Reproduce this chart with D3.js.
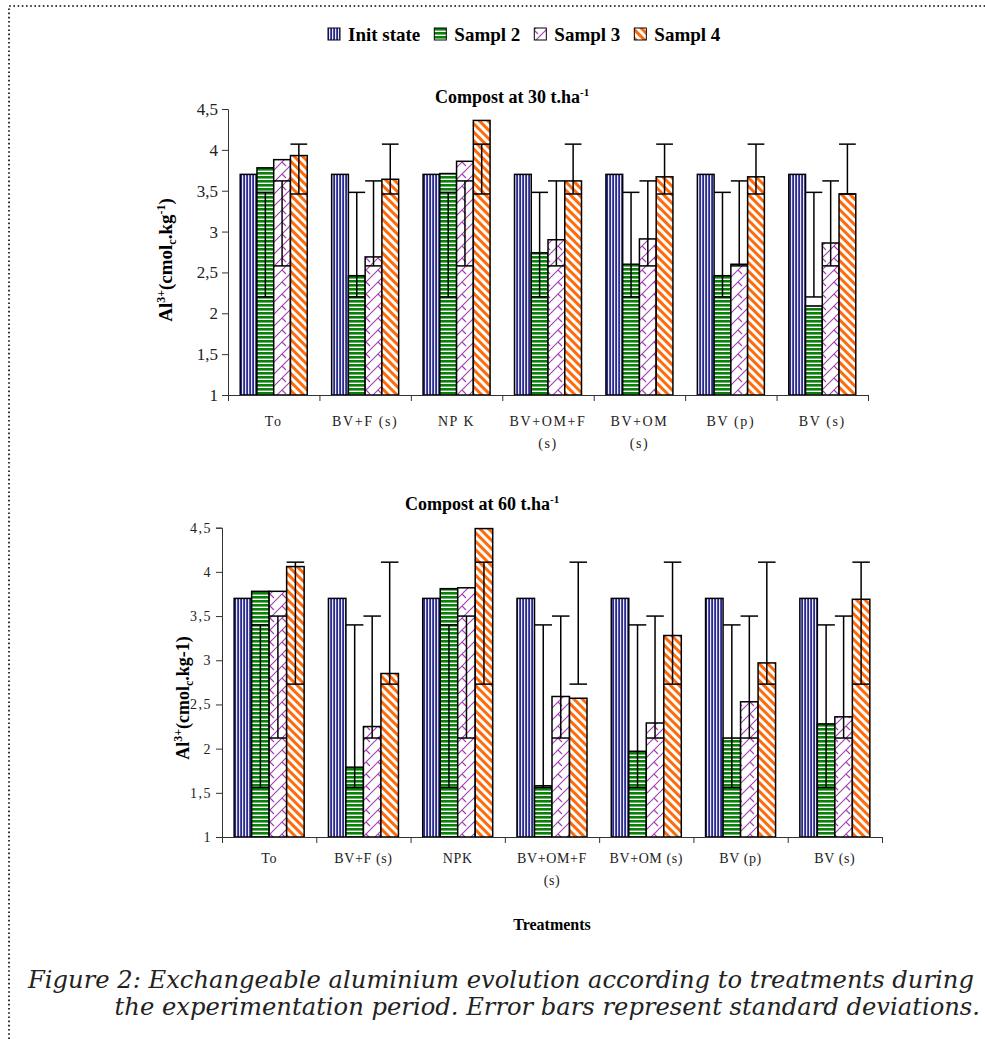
<!DOCTYPE html>
<html>
<head>
<meta charset="utf-8">
<script src="https://cdn.jsdelivr.net/npm/d3@7/dist/d3.min.js"></script>
<style>
body { margin: 0; background: #fff; }
svg { display: block; }
</style>
</head>
<body>
<script>
// categories
var treatments_30 = ["To", "BV+F (s)", "NP K", "BV+OM+F|(s)", "BV+OM|(s)", "BV (p)", "BV (s)"];
var treatments_60 = ["To", "BV+F (s)", "NPK", "BV+OM+F|(s)", "BV+OM (s)", "BV (p)", "BV (s)"];
var series = ["Init state", "Sampl 2", "Sampl 3", "Sampl 4"];
var y_ticks = [1, 1.5, 2, 2.5, 3, 3.5, 4, 4.5];

// compost at 30 t/ha
var init_30 = [3.7, 3.7, 3.7, 3.7, 3.7, 3.7, 3.7];
var sampl2_30 = [3.78, 2.46, 3.71, 2.74, 2.60, 2.46, 2.09];
var sampl3_30 = [3.88, 2.69, 3.86, 2.90, 2.91, 2.60, 2.86];
var sampl4_30 = [3.93, 3.64, 4.36, 3.62, 3.67, 3.67, 3.46];
// error bar ends per series (Init state has none)
var err_low_30 = [null, 2.20, 2.58, 3.46];
var err_high_30 = [null, 3.48, 3.62, 4.07];

// compost at 60 t/ha
var init_60 = [3.7, 3.7, 3.7, 3.7, 3.7, 3.7, 3.7];
var sampl2_60 = [3.78, 1.79, 3.81, 1.58, 1.97, 2.12, 2.28];
var sampl3_60 = [3.78, 2.25, 3.82, 2.59, 2.29, 2.53, 2.36];
var sampl4_60 = [4.06, 2.85, 4.49, 2.57, 3.28, 2.97, 3.69];
var err_low_60 = [null, 1.56, 2.12, 2.73];
var err_high_60 = [null, 3.40, 3.50, 4.11];

//Width and height
var w = 985;
var h = 1039;

var svg = d3.select("body")
            .append("svg")
            .attr("width", w)
            .attr("height", h);

var defs = svg.append('defs');

// fill patterns, one per series
var pat_blue = defs.append('pattern').attr('id', 'p0')
    .attr('patternUnits', 'userSpaceOnUse').attr('width', 3).attr('height', 10);
pat_blue.append('rect').attr('width', 3).attr('height', 10).attr('fill', '#e8e8f8');
pat_blue.append('rect').attr('x', 0.3).attr('width', 1.6).attr('height', 10).attr('fill', '#141482');

var pat_green = defs.append('pattern').attr('id', 'p1')
    .attr('patternUnits', 'userSpaceOnUse').attr('width', 10).attr('height', 4);
pat_green.append('rect').attr('width', 10).attr('height', 4).attr('fill', '#fff');
pat_green.append('rect').attr('y', 0).attr('width', 10).attr('height', 2.6).attr('fill', '#0a800a');

var pat_purple = defs.append('pattern').attr('id', 'p2')
    .attr('patternUnits', 'userSpaceOnUse').attr('width', 12).attr('height', 12);
pat_purple.append('rect').attr('width', 12).attr('height', 12).attr('fill', '#fff');
pat_purple.append('path')
    .attr('d', 'M0,12 L12,0 M6,6 L10,10 M-1,1 L1,-1 M11,13 L13,11')
    .attr('stroke', '#a040b0').attr('stroke-width', 1.1).attr('fill', 'none');

var pat_orange = defs.append('pattern').attr('id', 'p3')
    .attr('patternUnits', 'userSpaceOnUse').attr('width', 6).attr('height', 10)
    .attr('patternTransform', 'rotate(-45)');
pat_orange.append('rect').attr('width', 6).attr('height', 10).attr('fill', '#fff');
pat_orange.append('rect').attr('width', 3).attr('height', 10).attr('fill', '#ff6a0a');

// dotted frame
svg.append('path')
    .attr('d', `M9,${h} L9,6 L${w},6`)
    .attr('fill', 'none')
    .attr('stroke', '#000')
    .attr('stroke-width', 1.6)
    .attr('stroke-dasharray', '1.6,2.6');

// legend
var legend_g = svg.append('g').attr('class', 'legend');
var lx = 328;
series.forEach((s, i) => {
    legend_g.append('rect')
        .attr('x', lx).attr('y', 28).attr('width', 12).attr('height', 12)
        .attr('fill', `url(#p${i})`).attr('stroke', '#000').attr('stroke-width', 1);
    var t = legend_g.append('text')
        .attr('x', lx + 20).attr('y', 41)
        .style('font-family', 'Liberation Serif').style('font-weight', 'bold').style('font-size', '19px')
        .text(s);
    lx += 20 + t.node().getComputedTextLength() + 14;
});

function draw_chart(opt) {
    var g = svg.append('g').attr('class', opt.name);

    var x = d3.scaleBand().domain(d3.range(opt.cats.length)).range([opt.x0, opt.x1]);
    var edge = d3.scaleLinear().domain([0, opt.cats.length]).range([opt.x0, opt.x1]);
    var y = d3.scaleLinear().domain([1, 4.5]).range([opt.ybase, opt.ytop]);
    var inner = d3.scaleBand().domain(series)
        .range([(x.bandwidth() - opt.group) / 2, (x.bandwidth() + opt.group) / 2]);

    var rows = [];
    opt.values.forEach((vals, si) => {
        vals.forEach((v, ci) => rows.push({cat: ci, s: series[si], si: si, v: v}));
    });

    g.selectAll('.bar')
        .data(rows)
        .enter()
        .append('rect')
        .attr('class', 'bar')
        .attr('x', d => x(d.cat) + inner(d.s))
        .attr('width', inner.bandwidth())
        .attr('y', d => y(d.v))
        .attr('height', d => y(1) - y(d.v))
        .attr('fill', d => `url(#p${d.si})`)
        .attr('stroke', '#000')
        .attr('stroke-width', 1.5);

    // error bars
    var errs = rows.filter(d => opt.low[d.si] !== null);
    var eg = g.selectAll('.err')
        .data(errs)
        .enter()
        .append('g')
        .attr('class', 'err')
        .attr('stroke', '#000')
        .attr('stroke-width', 1.5);
    eg.append('line')
        .attr('x1', d => x(d.cat) + inner(d.s) + inner.bandwidth() / 2)
        .attr('x2', d => x(d.cat) + inner(d.s) + inner.bandwidth() / 2)
        .attr('y1', d => y(opt.low[d.si]))
        .attr('y2', d => y(opt.high[d.si]));
    [opt.low, opt.high].forEach(arr => {
        eg.append('line')
            .attr('x1', d => x(d.cat) + inner(d.s))
            .attr('x2', d => x(d.cat) + inner(d.s) + inner.bandwidth())
            .attr('y1', d => y(arr[d.si]))
            .attr('y2', d => y(arr[d.si]));
    });

    // y axis
    var yaxis = g.append('g')
        .attr('transform', `translate(${opt.x0},0)`)
        .call(d3.axisLeft(y).tickValues(y_ticks).tickSize(6).tickPadding(4)
              .tickFormat(d => String(d).replace('.', ',')));
    yaxis.selectAll('text')
        .style('font-family', 'Liberation Serif')
        .style('font-size', opt.tickSize)
        .style('letter-spacing', opt.tickSpacing)
        .attr('fill', '#222');

    // x axis: ticks on category edges
    var xaxis = g.append('g')
        .attr('transform', `translate(0,${opt.ybase})`)
        .call(d3.axisBottom(edge).tickValues(d3.range(opt.cats.length + 1))
              .tickSize(6).tickSizeOuter(0).tickFormat(''));
    g.selectAll('.domain, .tick line').attr('stroke', '#333');

    var labels = g.selectAll('.xlabel')
        .data(opt.cats)
        .enter()
        .append('text')
        .attr('class', 'xlabel')
        .attr('text-anchor', 'middle')
        .style('font-family', 'Liberation Serif')
        .style('font-size', opt.labelSize)
        .style('letter-spacing', opt.labelSpacing)
        .attr('fill', '#222');
    labels.each(function(c, i) {
        var parts = c.split('|');
        var sel = d3.select(this);
        parts.forEach((p, k) => {
            sel.append('tspan')
                .attr('x', x(i) + x.bandwidth() / 2)
                .attr('y', opt.labelY + k * 22)
                .text(p);
        });
    });

    // title
    var title = g.append('text')
        .attr('x', opt.titleX).attr('y', opt.titleY)
        .style('font-family', 'Liberation Serif').style('font-weight', 'bold').style('font-size', '18px')
        .text(opt.title);
    title.append('tspan').attr('dy', -7).style('font-size', '11px').text('-1');

    // y label
    var ylab = g.append('text')
        .attr('transform', `translate(${opt.ylabX},${opt.ylabY}) rotate(-90)`)
        .attr('text-anchor', 'middle')
        .style('font-family', 'Liberation Serif').style('font-weight', 'bold').style('font-size', opt.ylabSize);
    ylab.append('tspan').text('Al');
    ylab.append('tspan').attr('dy', -7).style('font-size', '12px').text('3+');
    ylab.append('tspan').attr('dy', 7).text('(cmol');
    ylab.append('tspan').attr('dy', 4).style('font-size', '12px').text('c');
    if (opt.supUnit) {
        ylab.append('tspan').attr('dy', -4).text('.kg');
        ylab.append('tspan').attr('dy', -7).style('font-size', '12px').text('-1');
        ylab.append('tspan').attr('dy', 7).text(')');
    } else {
        ylab.append('tspan').attr('dy', -4).text('.kg-1)');
    }
}

draw_chart({
    name: 'c30', cats: treatments_30,
    values: [init_30, sampl2_30, sampl3_30, sampl4_30],
    low: err_low_30, high: err_high_30,
    x0: 228, x1: 868, ybase: 395, ytop: 109, group: 67,
    tickSize: '17px', tickSpacing: '0px',
    labelSize: '14px', labelSpacing: '1.6px', labelY: 426,
    title: 'Compost at 30 t.ha', titleX: 435, titleY: 103,
    ylabX: 172, ylabY: 260, ylabSize: '19px', supUnit: true
});

draw_chart({
    name: 'c60', cats: treatments_60,
    values: [init_60, sampl2_60, sampl3_60, sampl4_60],
    low: err_low_60, high: err_high_60,
    x0: 222, x1: 882, ybase: 837, ytop: 527.7, group: 70,
    tickSize: '14px', tickSpacing: '1.5px',
    labelSize: '14px', labelSpacing: '0.6px', labelY: 863,
    title: 'Compost at 60 t.ha', titleX: 405, titleY: 510,
    ylabX: 189, ylabY: 698, ylabSize: '18px', supUnit: false
});

// x axis title
svg.append('text')
    .attr('x', 552).attr('y', 930)
    .attr('text-anchor', 'middle')
    .style('font-family', 'Liberation Serif').style('font-weight', 'bold').style('font-size', '16px')
    .text('Treatments');

// caption, sized to span the figure width
var cap1 = svg.append('text')
    .attr('x', 28).attr('y', 988)
    .style('font-family', 'DejaVu Serif').style('font-style', 'italic').style('font-size', '20px')
    .attr('fill', '#222')
    .text('Figure 2: Exchangeable aluminium evolution according to treatments during');
var fs = 20 * 946 / cap1.node().getComputedTextLength();
cap1.style('font-size', fs + 'px');
svg.append('text')
    .attr('x', 980).attr('y', 1015)
    .attr('text-anchor', 'end')
    .style('font-family', 'DejaVu Serif').style('font-style', 'italic').style('font-size', fs + 'px')
    .attr('fill', '#222')
    .text('the experimentation period. Error bars represent standard deviations.');
</script>
